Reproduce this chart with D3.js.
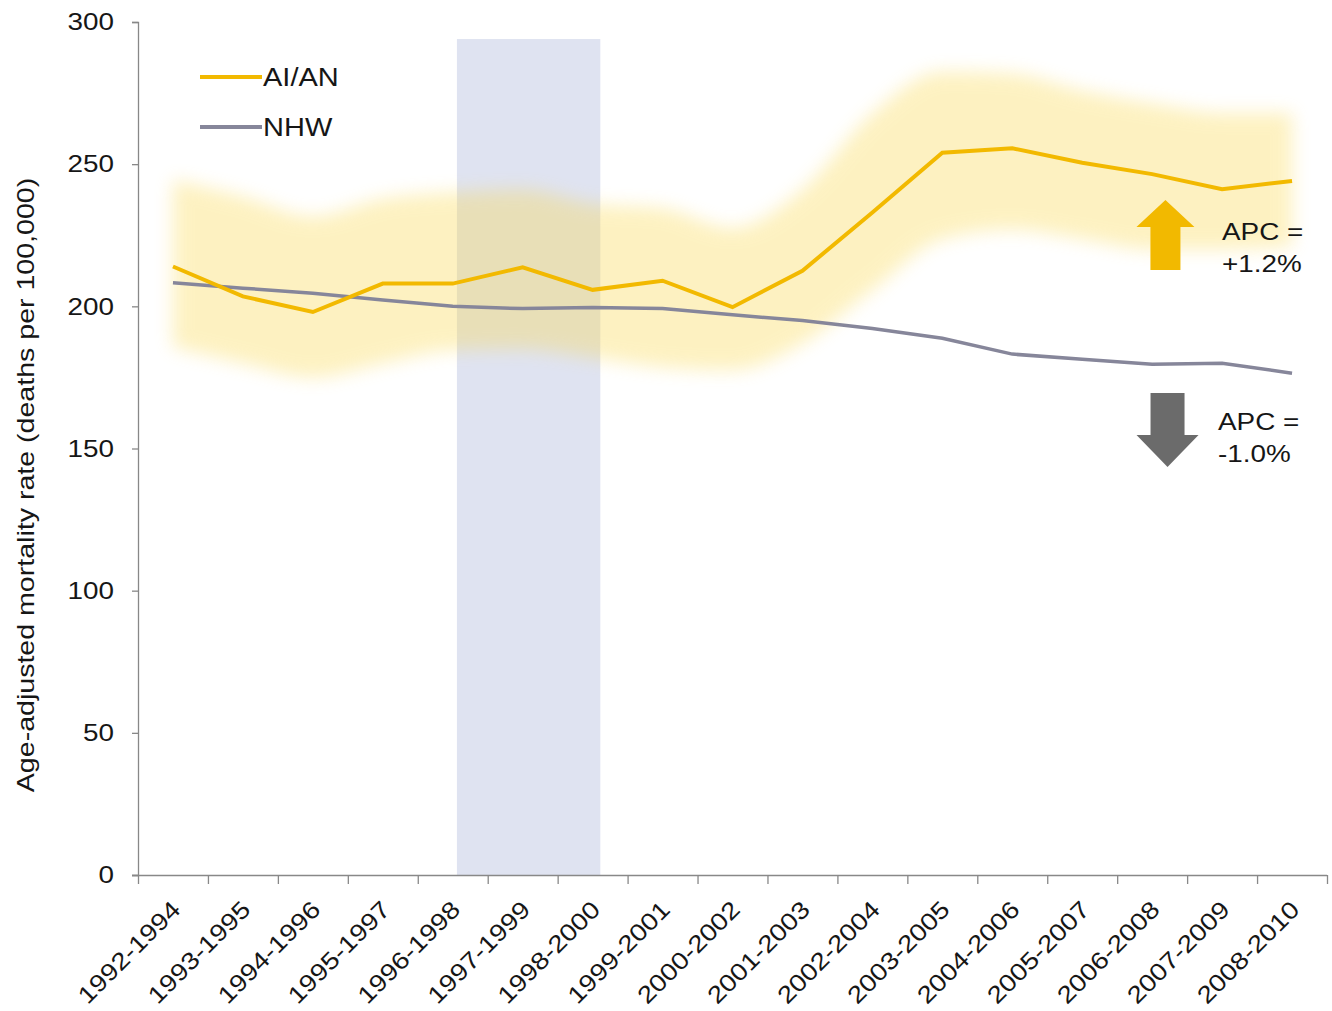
<!DOCTYPE html>
<html>
<head>
<meta charset="utf-8">
<script src="https://cdn.jsdelivr.net/npm/d3@7"></script>
<style>
	body { margin: 0; background: #fff; }
	text { font-family: 'Liberation Sans', Arial, sans-serif; fill: #161616; }
</style>
</head>
<body>
<svg id="chart" width="1332" height="1011"></svg>
<script>
// data
const periods = ['1992-1994', '1993-1995', '1994-1996', '1995-1997', '1996-1998', '1997-1999', '1998-2000', '1999-2001',
	'2000-2002', '2001-2003', '2002-2004', '2003-2005', '2004-2006', '2005-2007', '2006-2008', '2007-2009', '2008-2010'];
const aian = [214, 203.5, 198, 208, 208, 213.7, 205.8, 209, 199.7, 212.5, 233, 254, 255.6, 250.5, 246.5, 241.2, 244.1];
const aianHigh = [244.5, 238.5, 231.5, 237.8, 240, 241, 236, 234.5, 227.5, 241, 267.7, 282.5, 281.8, 275.8, 271.3, 268, 268];
const aianLow = [185.7, 180, 175, 180, 184.6, 185, 182, 178.6, 177.6, 187, 205.8, 223.7, 227, 223.7, 220, 220, 221];
const nhw = [208.3, 206.4, 204.6, 202.2, 200, 199.2, 199.6, 199.2, 197, 195, 192.2, 188.8, 183.2, 181.4, 179.6, 180, 176.5];
const yTicks = [0, 50, 100, 150, 200, 250, 300];
const shadeSpan = [4.56, 6.61];	// in category units
const shadeTop = 294;
const seriesNames = ['AI/AN', 'NHW'];
const apcUp = ['APC =', '+1.2%'];
const apcDown = ['APC =', '-1.0%'];

const gold = '#f2b900', grey = '#86869a';
const svg = d3.select('#chart');
const x = d3.scaleBand().domain(periods).range([138, 1327]);
const xi = d3.scaleLinear().domain([0, periods.length]).range([138, 1327]);
const y = d3.scaleLinear().domain([0, 300]).range([875, 22]);
const cx = (d, i) => x(periods[i]) + x.bandwidth() / 2;

// stretch text along its reading direction, the picture's font runs wide
function widen(sel, k = 1.16) {
	sel.each(function() {
		let L = this.getComputedTextLength();
		d3.select(this).attr('textLength', L * k).attr('lengthAdjust', 'spacingAndGlyphs');
	});
}

let defs = svg.append('defs');
defs.append('filter').attr('id', 'blur').attr('x', '-10%').attr('y', '-30%').attr('width', '120%').attr('height', '160%')
	.append('feGaussianBlur').attr('stdDeviation', 9);

// shaded period
svg.append('rect')
	.attr('x', xi(shadeSpan[0])).attr('width', xi(shadeSpan[1]) - xi(shadeSpan[0]))
	.attr('y', y(shadeTop)).attr('height', y(0) - y(shadeTop))
	.style('fill', '#dfe3f1');

// confidence band
let areaFn = d3.area().x(cx).y0((d, i) => y(aianLow[i])).y1((d, i) => y(aianHigh[i])).curve(d3.curveMonotoneX);
svg.append('path').attr('d', areaFn(aian))
	.style('fill', '#fad84c').style('opacity', 0.34).attr('filter', 'url(#blur)');

// axes
let yAxis = svg.append('g').attr('transform', 'translate(138,0)')
	.call(d3.axisLeft(y).tickValues(yTicks).tickSize(6).tickPadding(18));
let xTicks = svg.append('g').attr('transform', 'translate(0,875)')
	.call(d3.axisBottom(xi).tickValues(d3.range(periods.length + 1)).tickFormat('').tickSize(9).tickSizeOuter(0));
xTicks.select('.domain').attr('d', 'M132,0.5H1327');
let xAxis = svg.append('g').attr('transform', 'translate(0,875)')
	.call(d3.axisBottom(x).tickSize(0));
xAxis.select('.domain').remove();
svg.selectAll('.domain, .tick line').style('stroke', '#888').style('stroke-width', 1.3);
yAxis.selectAll('text').style('font-size', '24px').attr('fill', null).call(widen);
xAxis.selectAll('text')
	.attr('y', 0).attr('dy', 0)
	.attr('text-anchor', 'end')
	.attr('transform', 'translate(9,36) rotate(-45)')
	.style('font-size', '24px').attr('fill', null).call(widen);
svg.selectAll('.tick text').style('font-family', "'Liberation Sans', Arial, sans-serif");

svg.append('text')
	.attr('transform', 'translate(34,485) rotate(-90)')
	.attr('text-anchor', 'middle')
	.style('font-size', '24px')
	.text('Age-adjusted mortality rate (deaths per 100,000)')
	.call(widen, 1.19);

// lines
let lineFn = d3.line().x(cx).y(d => y(d));
svg.append('path').attr('d', lineFn(nhw)).style('fill', 'none').style('stroke', grey).style('stroke-width', 3.5);
svg.append('path').attr('d', lineFn(aian)).style('fill', 'none').style('stroke', gold).style('stroke-width', 4);

// legend
let legend = svg.append('g').selectAll('g').data(seriesNames).join('g')
	.attr('transform', (d, i) => `translate(200, ${77 + i * 50})`);
legend.append('line').attr('x1', 0).attr('x2', 62)
	.style('stroke', (d, i) => i == 0 ? gold : grey).style('stroke-width', 4);
legend.append('text').attr('x', 63).attr('dy', '0.35em').style('font-size', '25px').text(d => d).call(widen);

// APC arrows
let upX = xi(14.69), downX = xi(14.72);
svg.append('path')
	.attr('transform', `translate(${upX},${y(237.4)})`)
	.attr('d', 'M0,0L29,27H15V70H-15V27H-29Z')
	.style('fill', gold);
svg.append('path')
	.attr('transform', `translate(${downX},${y(143.5)})`)
	.attr('d', 'M0,0L31,-32H17V-74H-17V-32H-31Z')
	.style('fill', '#6b6b6b');
svg.append('g').selectAll('text').data(apcUp).join('text')
	.attr('x', 1222).attr('y', (d, i) => 240 + i * 32)
	.style('font-size', '24px').text(d => d).call(widen);
svg.append('g').selectAll('text').data(apcDown).join('text')
	.attr('x', 1218).attr('y', (d, i) => 430 + i * 32)
	.style('font-size', '24px').text(d => d).call(widen);
</script>
</body>
</html>
